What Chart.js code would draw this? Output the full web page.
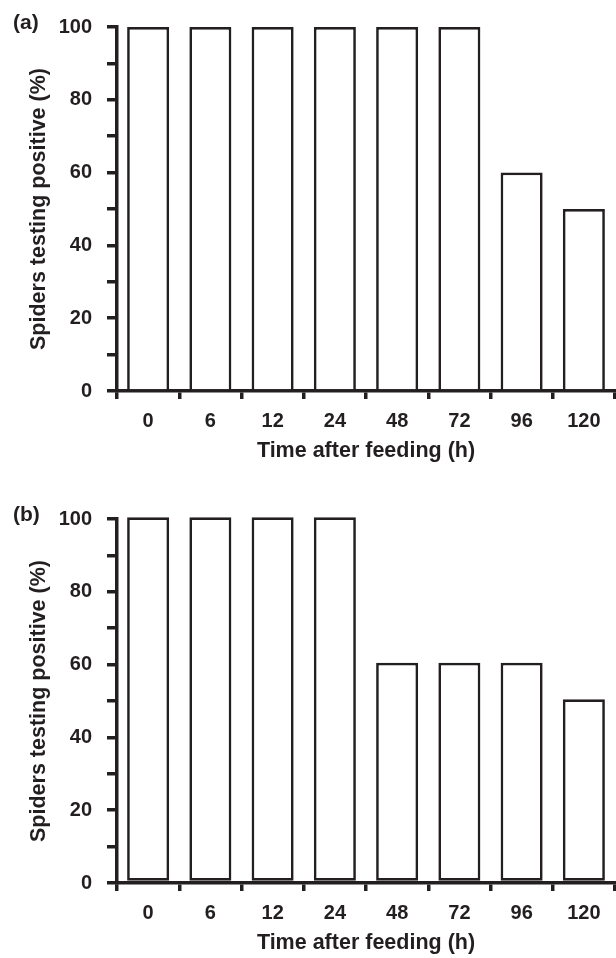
<!DOCTYPE html>
<html>
<head>
<meta charset="utf-8">
<script src="https://cdn.jsdelivr.net/npm/chart.js@4"></script>
<style>
body { margin: 0; background: #fff; overflow: hidden; }
#wrap { position: relative; width: 616px; height: 958px; }
canvas { position: absolute; left: 0; }
#chartA { top: 0; }
#chartB { top: 492px; }
.panel { position: absolute; left: 13px; font: bold 21px "Liberation Sans", Arial, sans-serif; color: #231f20; line-height: 22px; }
</style>
</head>
<body>
<div id="wrap">
<canvas id="chartA" width="616" height="466"></canvas>
<canvas id="chartB" width="616" height="466"></canvas>
<div class="panel" style="top:11px">(a)</div>
<div class="panel" style="top:503px">(b)</div>
</div>
<script>
var hours = ['0', '6', '12', '24', '48', '72', '96', '120'];
var positiveA = [100, 100, 100, 100, 100, 100, 60, 50];
// panel (b) is printed a little off the baseline, bars float just above 0
var positiveB = [100.5, 100.5, 100.5, 100.5, 60.5, 60.5, 60.5, 50.5];
var baseB = 0.6;
var yMax = 100;
var yStep = 10;
var yLabelStep = 20;

var ink = '#231f20';
Chart.defaults.font.family = '"Liberation Sans", Arial, Helvetica, sans-serif';
Chart.defaults.font.weight = 'bold';
Chart.defaults.color = ink;

function createChart(id, values, base) {
    var ctx = document.getElementById(id).getContext('2d');
    var dataset = {
        data: values,
        backgroundColor: '#ffffff',
        borderColor: ink,
        borderWidth: 2.7,
        barPercentage: 0.675,
        categoryPercentage: 1,
        clip: false
    };
    if (base != null) {
        dataset.base = base;
        dataset.borderSkipped = false;
    }
    return new Chart(ctx, {
        type: 'bar',
        data: {
            labels: hours,
            datasets: [dataset]
        },
        options: {
            responsive: false,
            animation: false,
            layout: { padding: { top: 21, right: 1, left: 0, bottom: 0 } },
            plugins: { legend: { display: false }, tooltip: { enabled: false } },
            scales: {
                x: {
                    afterFit: function (s) { s.height = 75; },
                    grid: { drawOnChartArea: false, color: ink, lineWidth: 3.5, tickLength: 8 },
                    border: { color: ink, width: 3.5 },
                    ticks: { font: { size: 20, weight: 'bold' }, padding: 10, color: ink },
                    title: {
                        display: true,
                        text: 'Time after feeding (h)',
                        font: { size: 21.5, weight: 'bold', lineHeight: 1 },
                        padding: { top: 0, bottom: 4 },
                        color: ink
                    }
                },
                y: {
                    min: 0,
                    max: yMax,
                    afterFit: function (s) { s.width = 117; },
                    grid: { drawOnChartArea: false, color: ink, lineWidth: 3.5, tickLength: 10 },
                    border: { color: ink, width: 3.5 },
                    ticks: {
                        stepSize: yStep,
                        padding: 15,
                        color: ink,
                        font: { size: 20, weight: 'bold' },
                        callback: function (v) { return v % yLabelStep === 0 ? v : ''; }
                    },
                    title: {
                        display: true,
                        text: 'Spiders testing positive (%)',
                        font: { size: 21.5, weight: 'bold', lineHeight: 1 },
                        padding: { top: 28, bottom: 0 },
                        color: ink
                    }
                }
            }
        }
    });
}

createChart('chartA', positiveA, null);
createChart('chartB', positiveB, baseB);
</script>
</body>
</html>
